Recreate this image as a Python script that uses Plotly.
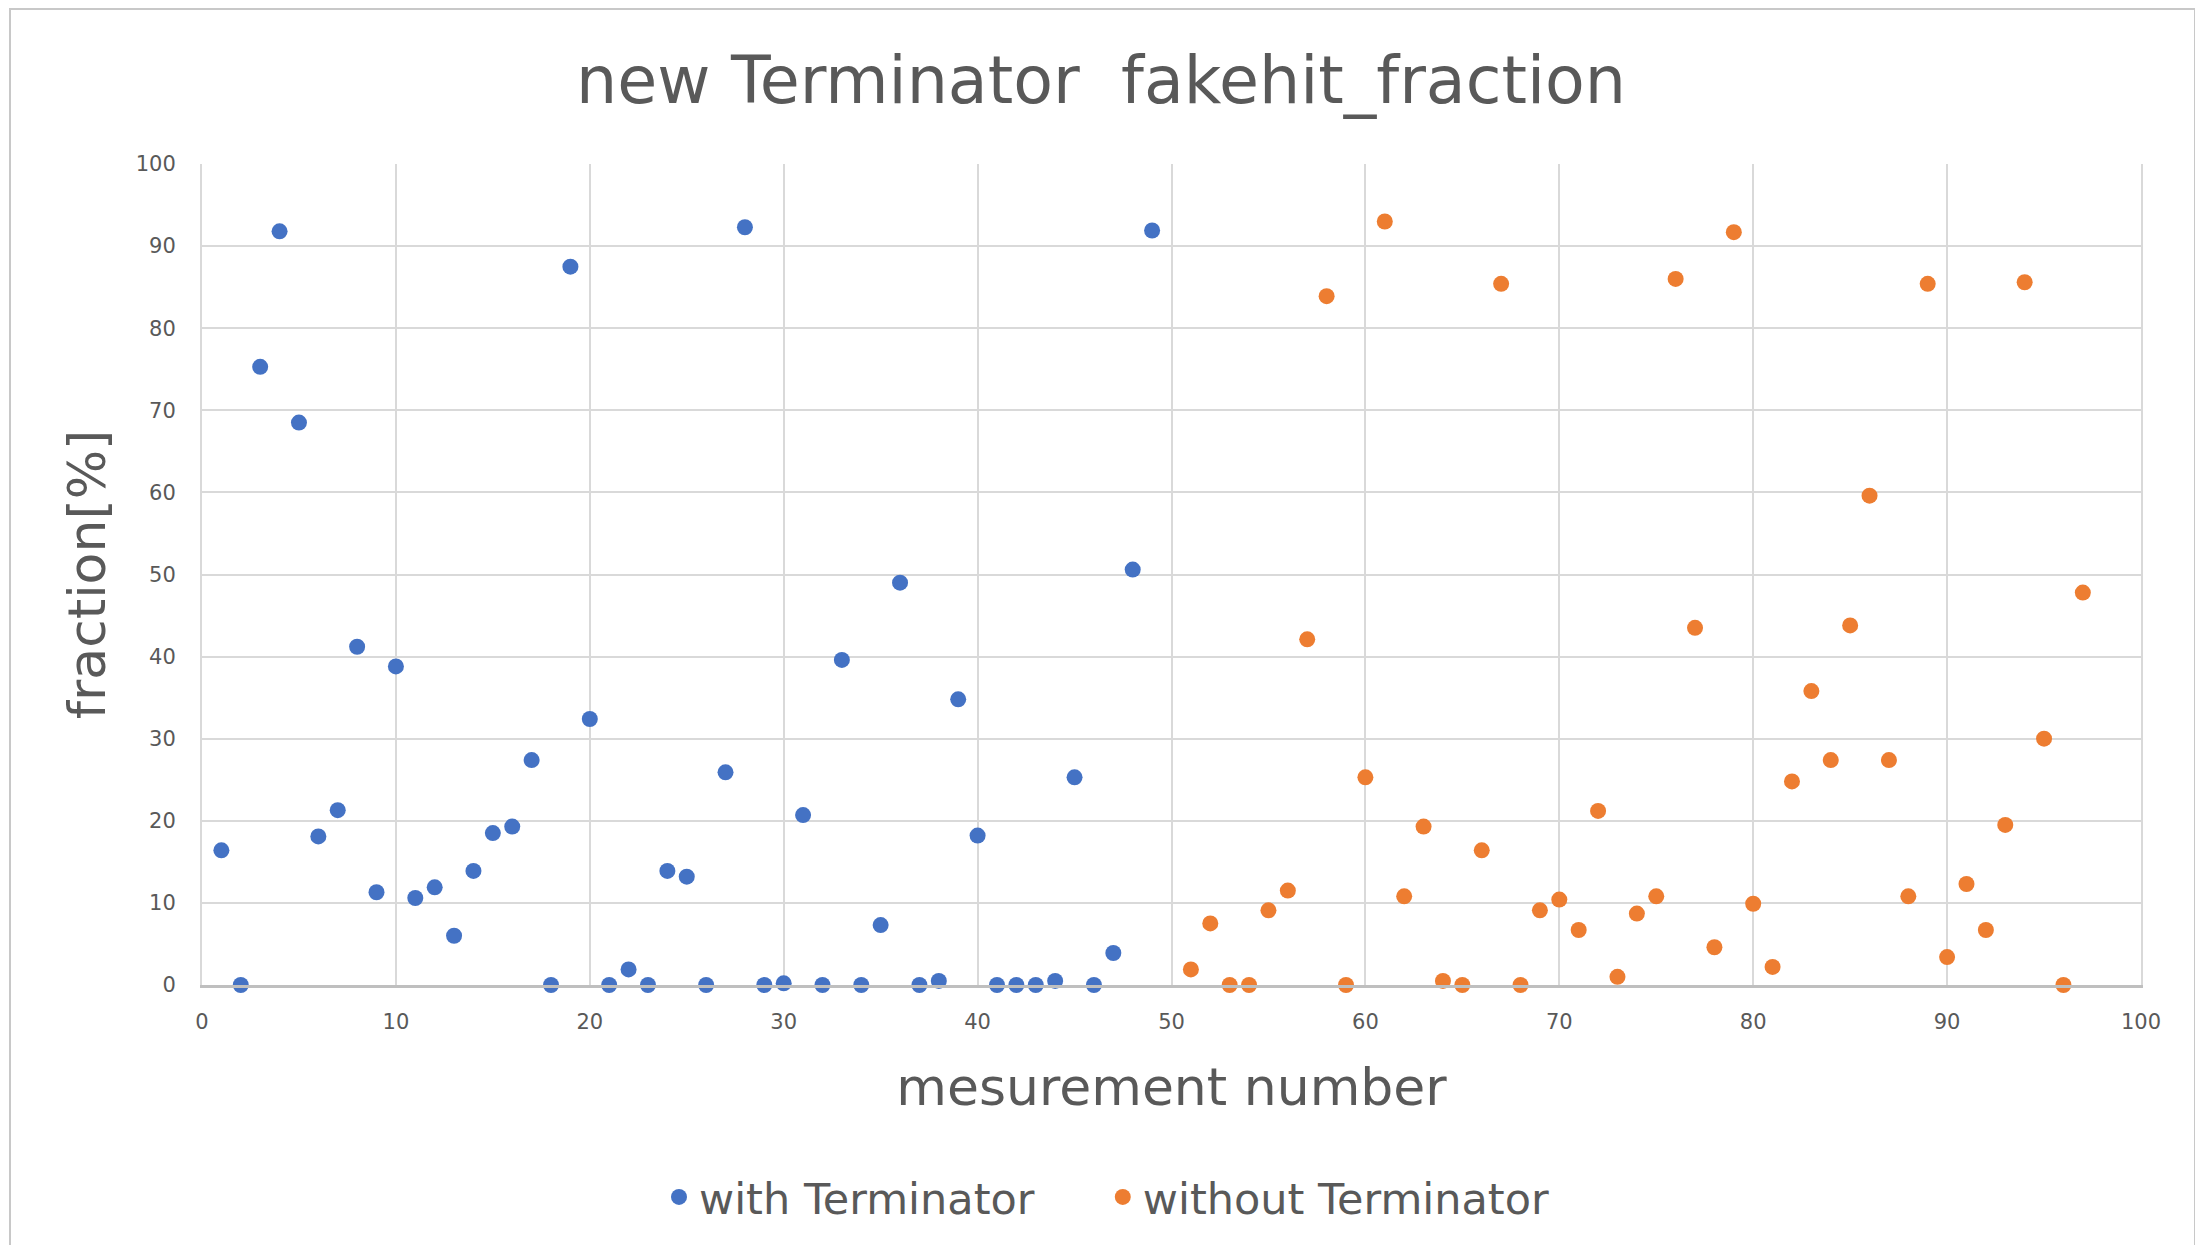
import plotly.graph_objects as go

with_x = list(range(1, 50))
with_y = [16.4, 0, 75.3, 91.8, 68.5, 18.1, 21.3, 41.2, 11.3, 38.8,
          10.6, 11.9, 6.0, 13.9, 18.5, 19.3, 27.4, 0, 87.5, 32.4,
          0, 1.9, 0, 13.9, 13.2, 0, 25.9, 92.3, 0, 0.2,
          20.7, 0, 39.6, 0, 7.3, 49.0, 0, 0.5, 34.8, 18.2,
          0, 0, 0, 0.5, 25.3, 0, 3.9, 50.6, 91.9]

without_x = list(range(51, 98))
without_y = [1.9, 7.5, 0, 0, 9.1, 11.5, 42.1, 83.9, 0, 25.3,
             93.0, 10.8, 19.3, 0.5, 0, 16.4, 85.4, 0, 9.1, 10.4,
             6.7, 21.2, 1.0, 8.7, 10.8, 86.0, 43.5, 4.6, 91.7, 9.9,
             2.2, 24.8, 35.8, 27.4, 43.8, 59.6, 27.4, 10.8, 85.4, 3.4,
             12.3, 6.7, 19.5, 85.6, 30.0, 0, 47.8]

W, H = 2203, 1245
OFF = 8  # page body margin
L, R, T, B = 202 - OFF, 62 + OFF, 164 - OFF, 260 + OFF
PW, PH = W - L - R, H - T - B

FONT = "DejaVu Sans"
TXT = "#595959"
GRID = "#D9D9D9"

fig = go.Figure()
fig.add_trace(go.Scatter(x=with_x, y=with_y, mode="markers",
                         name="with Terminator&nbsp;&nbsp;&nbsp;&nbsp;&#8201;",
                         marker=dict(color="#4472C4", size=16), cliponaxis=False))
fig.add_trace(go.Scatter(x=without_x, y=without_y, mode="markers", name="without Terminator",
                         marker=dict(color="#ED7D31", size=16), cliponaxis=False))

def px_x(p):
    return (p - OFF - L) / PW

def px_y(p):
    return (H - B - (p - OFF)) / PH

fig.update_layout(
    width=W, height=H,
    margin=dict(l=L, r=R, t=T, b=B),
    paper_bgcolor="white", plot_bgcolor="white",
    font=dict(family=FONT, color=TXT),
    title=dict(text="new Terminator&nbsp;&nbsp;fakehit_fraction", x=(1101 - OFF) / W,
               xanchor="center", xref="container", y=1 - (80 - OFF) / H, yanchor="middle",
               yref="container", font=dict(size=65, color=TXT, family=FONT)),
    xaxis=dict(range=[0, 100], dtick=10, tick0=0, showgrid=True, gridcolor=GRID, gridwidth=2,
               zeroline=False, showline=True, linecolor="#BFBFBF", linewidth=3,
               ticks="", tickfont=dict(size=21, color=TXT), ticklabelstandoff=16,
               title=dict(text="mesurement number", font=dict(size=52, color=TXT), standoff=36)),
    yaxis=dict(range=[0, 100], dtick=10, tick0=0, showgrid=True, gridcolor=GRID, gridwidth=2,
               zeroline=False, showline=True, mirror=True, linecolor=GRID, linewidth=2,
               ticks="", tickfont=dict(size=21, color=TXT), ticklabelstandoff=20,
               title=dict(text="fraction[%]", font=dict(size=52, color=TXT), standoff=14)),
    legend=dict(orientation="h", x=px_x(677 - 18), xanchor="left", y=px_y(1197),
                yanchor="middle", font=dict(size=43, color=TXT), itemsizing="trace",
                itemwidth=30, bgcolor="rgba(0,0,0,0)"),
    showlegend=True,
)

fig.add_shape(type="rect", xref="paper", yref="paper",
              x0=px_x(10), x1=px_x(2195), y0=px_y(1270), y1=px_y(9),
              line=dict(color="#C8C8C8", width=2), layer="below")

fig.write_html("out.html")
